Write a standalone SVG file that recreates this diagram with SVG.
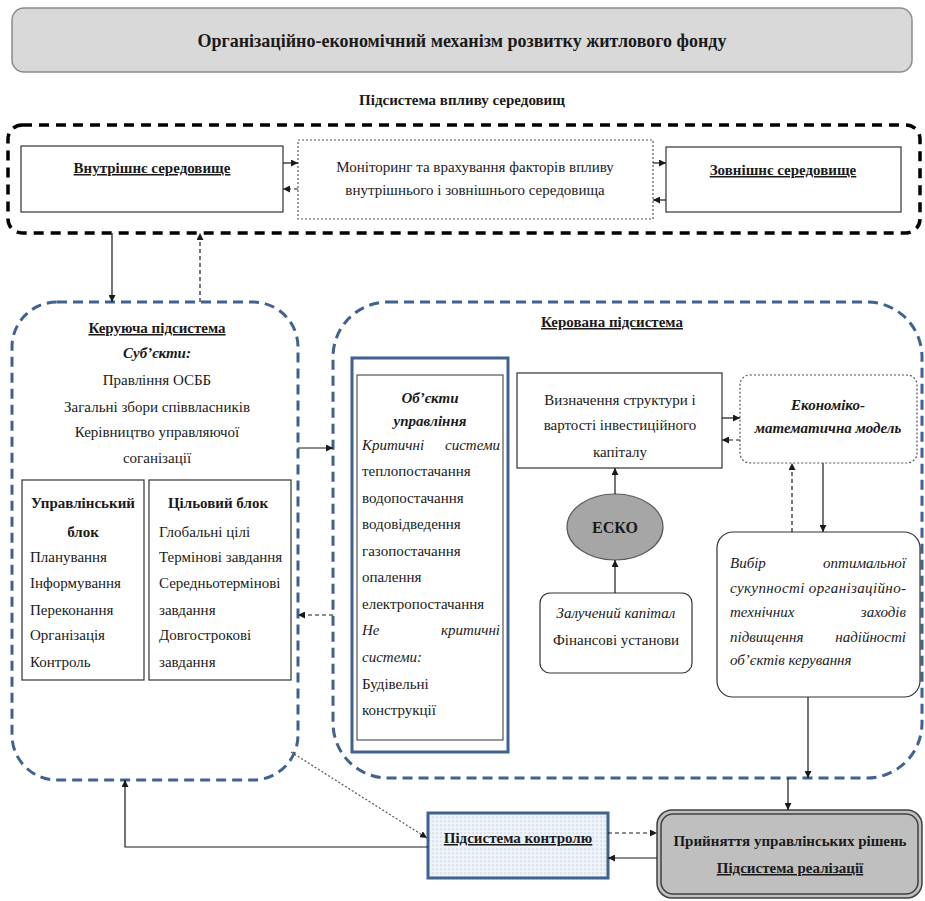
<svg xmlns="http://www.w3.org/2000/svg" width="925" height="901" viewBox="0 0 925 901">
<style>
text{font-family:"Liberation Serif","Times New Roman",serif;font-size:15px;fill:#1a1a1a}
.b{font-weight:bold}
.i{font-style:italic}
.u{text-decoration:underline}
.c{text-anchor:middle}
.e{text-anchor:end}
.ln{stroke:#1a1a1a;stroke-width:1.2;fill:none}
.dl{stroke:#1a1a1a;stroke-width:1.2;fill:none;stroke-dasharray:4 3}
.dt{stroke:#555;stroke-width:1.2;fill:none;stroke-dasharray:2 2}
.blue{fill:none;stroke:#41618f;stroke-width:3;stroke-dasharray:10 6}
.box{fill:#fff;stroke:#333;stroke-width:1.2}
</style>
<defs>
<marker id="ah" viewBox="0 0 10 10" refX="10" refY="5" markerWidth="7" markerHeight="7" markerUnits="userSpaceOnUse" orient="auto">
<path d="M0,0 L10,5 L0,10 z" fill="#1a1a1a"/>
</marker>
<pattern id="dots" width="4" height="4" patternUnits="userSpaceOnUse">
<rect width="4" height="4" fill="#eef3f9"/>
<circle cx="1" cy="1" r="0.6" fill="#9aaabf"/>
</pattern>
</defs>
<rect width="925" height="901" fill="#fff"/>

<g id="title">
<rect x="12" y="8" width="900" height="64" rx="12" fill="#d9d9d9" stroke="#8c8c8c" stroke-width="1.5"/>
<text x="462" y="47" class="b c" style="font-size:18px">Організаційно-економічний механізм розвитку житлового фонду</text>
</g>

<g id="env-subsystem">
<text x="462" y="105" class="b c">Підсистема впливу середовищ</text>
<rect x="8" y="125" width="912" height="108" rx="14" fill="none" stroke="#000" stroke-width="3.5" stroke-dasharray="10 7"/>
</g>

<g id="internal-env">
<rect x="21" y="146" width="262" height="66" class="box"/>
<text x="152" y="173" class="b u c">Внутрішнє середовище</text>
</g>

<g id="monitoring">
<rect x="298" y="140" width="355" height="79" fill="#fff" class="dt"/>
<text x="475" y="172" class="c">Моніторинг та врахування факторів впливу</text>
<text x="475" y="195" class="c">внутрішнього і зовнішнього середовища</text>
</g>

<g id="external-env">
<rect x="666" y="147" width="235" height="65" class="box"/>
<text x="783" y="175" class="b u c">Зовнішнє середовище</text>
</g>

<g id="managing-subsystem">
<rect x="12" y="302" width="286" height="478" rx="45" class="blue"/>
<text x="157" y="333" class="b u c">Керуюча підсистема</text>
<text x="157" y="358" class="b i c">Суб’єкти:</text>
<text x="157" y="385" class="c">Правління ОСББ</text>
<text x="157" y="412" class="c">Загальні збори співвласників</text>
<text x="157" y="437" class="c">Керівництво управляючої</text>
<text x="157" y="463" class="c">соганізації</text>
</g>

<g id="management-block">
<rect x="22" y="480" width="122" height="200" class="box"/>
<text x="83" y="508" class="b c">Управлінський</text>
<text x="83" y="537" class="b c">блок</text>
<text x="30" y="562">Планування</text>
<text x="30" y="588">Інформування</text>
<text x="30" y="615">Переконання</text>
<text x="30" y="640">Організація</text>
<text x="30" y="667">Контроль</text>
</g>

<g id="target-block">
<rect x="149" y="480" width="142" height="200" class="box"/>
<text x="218" y="508" class="b c">Цільовий блок</text>
<text x="159" y="537">Глобальні цілі</text>
<text x="159" y="562">Термінові завдання</text>
<text x="159" y="588">Середньотермінові</text>
<text x="159" y="615">завдання</text>
<text x="159" y="640">Довгострокові</text>
<text x="159" y="667">завдання</text>
</g>

<g id="managed-subsystem">
<rect x="333" y="302" width="589" height="476" rx="55" class="blue"/>
<text x="612" y="327" class="b u c">Керована підсистема</text>
</g>

<g id="control-objects">
<rect x="352" y="358" width="156" height="394" fill="#fff" stroke="#41618f" stroke-width="3"/>
<rect x="357" y="375" width="146" height="365" fill="none" stroke="#333" stroke-width="1"/>
<text x="430" y="403" class="b i c">Об’єкти</text>
<text x="430" y="426" class="b i c">управління</text>
<text x="362" y="450" class="i">Критичні</text>
<text x="500" y="450" class="i e">системи</text>
<text x="362" y="476">теплопостачання</text>
<text x="362" y="503">водопостачання</text>
<text x="362" y="529">водовідведення</text>
<text x="362" y="556">газопостачання</text>
<text x="362" y="582">опалення</text>
<text x="362" y="609">електропостачання</text>
<text x="362" y="635" class="i">Не</text>
<text x="500" y="635" class="i e">критичні</text>
<text x="362" y="662" class="i">системи:</text>
<text x="362" y="689">Будівельні</text>
<text x="362" y="715">конструкції</text>
</g>

<g id="capital-structure">
<rect x="517" y="373" width="205" height="95" class="box"/>
<text x="620" y="405" class="c">Визначення структури і</text>
<text x="620" y="430" class="c">вартості інвестиційного</text>
<text x="620" y="457" class="c">капіталу</text>
</g>

<g id="econ-model">
<rect x="740" y="375" width="177" height="88" rx="10" fill="#f2f2f2" class="dt"/>
<text x="828" y="410" class="b i c">Економіко-</text>
<text x="828" y="433" class="b i c">математична модель</text>
</g>

<g id="esco">
<ellipse cx="615" cy="527" rx="48" ry="33" fill="#a6a6a6" stroke="#595959" stroke-width="1.2"/>
<text x="615" y="533" class="b c" style="font-size:16px">ЕСКО</text>
</g>

<g id="attracted-capital">
<rect x="540" y="593" width="152" height="80" rx="10" class="box"/>
<text x="616" y="618" class="i c">Залучений капітал</text>
<text x="616" y="645" class="c">Фінансові установи</text>
</g>

<g id="choice">
<rect x="717" y="532" width="203" height="165" rx="16" class="box"/>
<text x="730" y="568" class="i">Вибір</text>
<text x="906" y="568" class="i e">оптимальної</text>
<text x="730" y="593" class="i" textLength="176" lengthAdjust="spacing">сукупності організаційно-</text>
<text x="730" y="617" class="i">технічних</text>
<text x="906" y="617" class="i e">заходів</text>
<text x="730" y="642" class="i">підвищення</text>
<text x="906" y="642" class="i e">надійності</text>
<text x="730" y="665" class="i">об’єктів керування</text>
</g>

<g id="control-subsystem">
<rect x="428" y="813" width="180" height="65" fill="url(#dots)" stroke="#41618f" stroke-width="3"/>
<text x="518" y="843" class="b u c">Підсистема контролю</text>
</g>

<g id="decisions">
<rect x="657" y="810" width="265" height="88" rx="15" fill="#bfbfbf" stroke="#404040" stroke-width="1.5"/>
<rect x="661" y="814" width="257" height="80" rx="12" fill="none" stroke="#404040" stroke-width="1.5"/>
<text x="790" y="846" class="b c">Прийняття управлінських рішень</text>
<text x="790" y="873" class="b u c">Підсистема реалізації</text>
</g>

<g id="connectors">
<line x1="283" y1="163" x2="298" y2="163" class="ln" marker-end="url(#ah)"/>
<line x1="298" y1="189" x2="283" y2="189" class="dl" marker-end="url(#ah)"/>
<line x1="653" y1="163" x2="666" y2="163" class="ln" marker-end="url(#ah)"/>
<line x1="666" y1="200" x2="653" y2="200" class="ln" marker-end="url(#ah)"/>
<line x1="112" y1="233" x2="112" y2="302" class="ln" marker-end="url(#ah)"/>
<line x1="200" y1="302" x2="200" y2="233" class="dl" marker-end="url(#ah)"/>
<line x1="298" y1="448" x2="333" y2="448" class="ln" marker-end="url(#ah)"/>
<line x1="333" y1="615" x2="298" y2="615" class="dl" marker-end="url(#ah)"/>
<line x1="615" y1="494" x2="615" y2="468" class="ln" marker-end="url(#ah)"/>
<line x1="615" y1="593" x2="615" y2="560" class="ln" marker-end="url(#ah)"/>
<line x1="722" y1="418" x2="740" y2="418" class="ln" marker-end="url(#ah)"/>
<line x1="740" y1="440" x2="722" y2="440" class="dl" marker-end="url(#ah)"/>
<line x1="792" y1="532" x2="792" y2="463" class="dl" marker-end="url(#ah)"/>
<line x1="823" y1="463" x2="823" y2="532" class="ln" marker-end="url(#ah)"/>
<line x1="808" y1="697" x2="808" y2="778" class="ln" marker-end="url(#ah)"/>
<line x1="788" y1="778" x2="788" y2="810" class="ln" marker-end="url(#ah)"/>
<polyline points="428,847 125,847 125,780" class="ln" marker-end="url(#ah)"/>
<line x1="291" y1="752" x2="427" y2="838" class="dt" marker-end="url(#ah)"/>
<line x1="608" y1="833" x2="657" y2="833" class="dl" marker-end="url(#ah)"/>
<line x1="657" y1="858" x2="608" y2="858" class="ln" marker-end="url(#ah)"/>
</g>
</svg>
